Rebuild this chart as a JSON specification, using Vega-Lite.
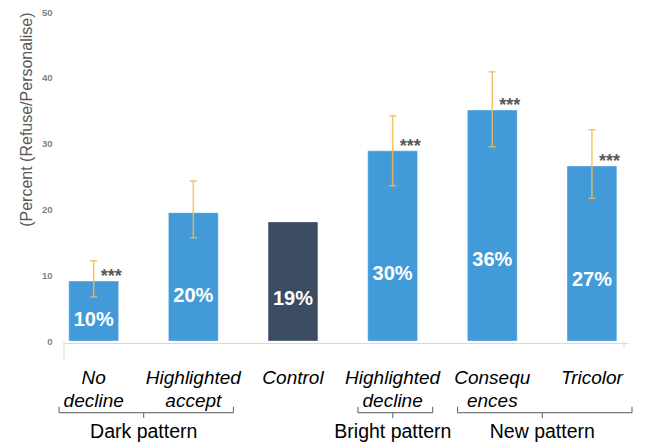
{
  "$schema": "https://vega.github.io/schema/vega-lite/v6.json",
  "width": 564,
  "height": 329,
  "autosize": {"type": "none"},
  "padding": {"left": 64, "top": 12, "right": 26, "bottom": 103},
  "background": "white",
  "config": {"view": {"stroke": null}, "font": "Liberation Sans"},
  "datasets": {
    "bars": [
      {"condition": "No decline", "family": "Dark pattern", "value": 9.1, "lo": 6.7, "hi": 12.2, "label": "10%", "sig": "***"},
      {"condition": "Highlighted accept", "family": "Dark pattern", "value": 19.5, "lo": 15.7, "hi": 24.3, "label": "20%", "sig": ""},
      {"condition": "Control", "family": "Control", "value": 18.1, "lo": null, "hi": null, "label": "19%", "sig": ""},
      {"condition": "Highlighted decline", "family": "Bright pattern", "value": 28.9, "lo": 23.6, "hi": 34.2, "label": "30%", "sig": "***"},
      {"condition": "Consequ ences", "family": "New pattern", "value": 35.1, "lo": 29.5, "hi": 40.9, "label": "36%", "sig": "***"},
      {"condition": "Tricolor", "family": "New pattern", "value": 26.6, "lo": 21.7, "hi": 32.1, "label": "27%", "sig": "***"}
    ],
    "groups": [
      {"family": "Dark pattern", "start": 0, "end": 2},
      {"family": "Bright pattern", "start": 3, "end": 4},
      {"family": "New pattern", "start": 4, "end": 6}
    ]
  },
  "layer": [
    {
      "data": {"name": "bars"},
      "layer": [
        {
          "mark": {"type": "bar", "stroke": "white", "strokeOpacity": 0.35, "strokeWidth": 1},
          "encoding": {
            "x": {
              "field": "condition",
              "type": "nominal",
              "sort": null,
              "scale": {"paddingInner": 0.5, "paddingOuter": 0.08, "align": 0.3},
              "axis": {
                "title": null,
                "labelAngle": 0,
                "labelExpr": "split(datum.label, ' ')",
                "labelFont": "Liberation Sans",
                "labelFontSize": 19,
                "labelFontStyle": "italic",
                "labelColor": "black",
                "labelLineHeight": 23,
                "labelPadding": 25,
                "labelBaseline": "top",
                "labelOverlap": false,
                "ticks": false,
                "domainColor": "#d9d9d9",
                "offset": 2
              }
            },
            "y": {
              "field": "value",
              "type": "quantitative",
              "scale": {"domain": [0, 50], "nice": false},
              "axis": {
                "title": "(Percent (Refuse/Personalise)",
                "values": [0, 10, 20, 30, 40, 50],
                "grid": false,
                "domain": false,
                "ticks": false,
                "labelColor": "#7f7f7f",
                "labelFontSize": 9.5,
                "labelFontWeight": "bold",
                "labelPadding": 12,
                "titleFont": "Liberation Sans",
                "titleFontSize": 16,
                "titleFontWeight": "normal",
                "titleColor": "#595959",
                "titleAngle": -90,
                "titleAlign": "right",
                "titleBaseline": "middle",
                "titleX": -38,
                "titleY": 0
              }
            },
            "color": {
              "field": "family",
              "type": "nominal",
              "scale": {
                "domain": ["Dark pattern", "Control", "Bright pattern", "New pattern"],
                "range": ["#429bd8", "#3a4b62", "#429bd8", "#429bd8"]
              },
              "legend": null
            }
          }
        },
        {
          "transform": [{"filter": "isValid(datum.lo)"}],
          "mark": {"type": "errorbar", "ticks": {"size": 7, "color": "#f5b94e"}, "thickness": 1.5, "color": "#f5b94e", "opacity": 0.85},
          "encoding": {
            "x": {"field": "condition", "type": "nominal", "sort": null},
            "y": {"field": "lo", "type": "quantitative", "title": "(Percent (Refuse/Personalise)"},
            "y2": {"field": "hi"}
          }
        },
        {
          "mark": {"type": "text", "align": "left", "baseline": "alphabetic", "dx": 7, "dy": 1, "fontSize": 18, "fontWeight": "bold", "color": "#595959"},
          "encoding": {
            "x": {"field": "condition", "type": "nominal", "sort": null},
            "y": {"field": "value", "type": "quantitative", "title": "(Percent (Refuse/Personalise)"},
            "text": {"field": "sig"}
          }
        },
        {
          "transform": [{"calculate": "datum.value * 0.35", "as": "labelY"}],
          "mark": {"type": "text", "baseline": "middle", "fontSize": 20, "fontWeight": "bold", "color": "white"},
          "encoding": {
            "x": {"field": "condition", "type": "nominal", "sort": null},
            "y": {"field": "labelY", "type": "quantitative", "title": "(Percent (Refuse/Personalise)"},
            "text": {"field": "label"}
          }
        }
      ]
    },
    {
      "data": {"name": "groups"},
      "transform": [
        {"calculate": "datum.start + 0.15", "as": "x0"},
        {"calculate": "datum.end - 0.1", "as": "x1"},
        {"calculate": "(datum.start + datum.end) / 2", "as": "mid"}
      ],
      "layer": [
        {
          "mark": {"type": "rule", "color": "#595959", "strokeWidth": 1},
          "encoding": {
            "x": {"field": "x0", "type": "quantitative", "scale": {"domain": [0.2, 5.86], "nice": false, "zero": false}, "axis": null},
            "x2": {"field": "x1"},
            "y": {"datum": -10.9, "type": "quantitative"}
          }
        },
        {
          "mark": {"type": "rule", "color": "#595959", "strokeWidth": 1},
          "encoding": {
            "x": {"field": "x0", "type": "quantitative"},
            "y": {"datum": -10.9, "type": "quantitative"},
            "y2": {"datum": -10.0}
          }
        },
        {
          "mark": {"type": "rule", "color": "#595959", "strokeWidth": 1},
          "encoding": {
            "x": {"field": "x1", "type": "quantitative"},
            "y": {"datum": -10.9, "type": "quantitative"},
            "y2": {"datum": -10.0}
          }
        },
        {
          "mark": {"type": "rule", "color": "#595959", "strokeWidth": 1},
          "encoding": {
            "x": {"field": "mid", "type": "quantitative"},
            "y": {"datum": -10.9, "type": "quantitative"},
            "y2": {"datum": -11.7}
          }
        },
        {
          "mark": {"type": "text", "baseline": "middle", "fontSize": 19.5, "color": "black", "font": "Liberation Sans"},
          "encoding": {
            "x": {"field": "mid", "type": "quantitative"},
            "y": {"datum": -13.85, "type": "quantitative"},
            "text": {"field": "family"}
          }
        },
        {
          "data": {"values": [{"edge": "left"}]},
          "mark": {"type": "rule", "color": "#d9d9d9", "strokeWidth": 1},
          "encoding": {
            "x": {"datum": 0.2, "type": "quantitative"},
            "y": {"datum": 0, "type": "quantitative"},
            "y2": {"datum": -2.9}
          }
        },
        {
          "data": {"values": [{"edge": "right"}]},
          "mark": {"type": "rule", "color": "#d9d9d9", "strokeWidth": 1},
          "encoding": {
            "x": {"datum": 5.82, "type": "quantitative"},
            "y": {"datum": 0, "type": "quantitative"},
            "y2": {"datum": -1.2}
          }
        }
      ]
    }
  ],
  "resolve": {"scale": {"x": "independent"}}
}
